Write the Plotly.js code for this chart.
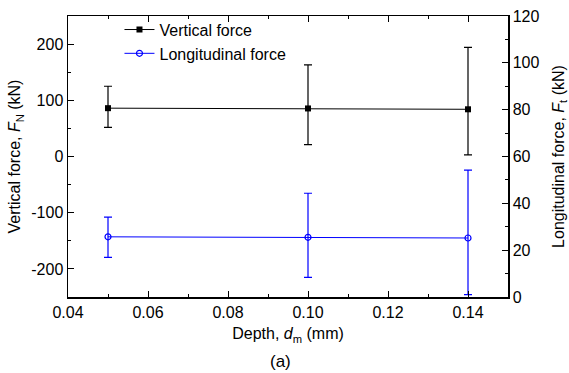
<!DOCTYPE html>
<html><head><meta charset="utf-8">
<script src="https://cdn.plot.ly/plotly-3.0.1.min.js"></script>
<style>html,body{margin:0;padding:0;background:#fff}#chart{width:569px;height:373px}</style>
</head><body><div id="chart"></div>
<script>
const depth = [0.05, 0.10, 0.14];
const verticalForce = [86, 85.5, 84];
const verticalErrPlus = [39, 77.5, 110];
const verticalErrMinus = [34, 64.5, 81];
const longitudinalForce = [25.7, 25.5, 25.2];
const longitudinalErrPlus = [8.4, 18.8, 29];
const longitudinalErrMinus = [8.8, 17.1, 24.2];
const xTicks = [0.04, 0.06, 0.08, 0.10, 0.12, 0.14];
const xTickLabels = ['0.04', '0.06', '0.08', '0.10', '0.12', '0.14'];
const yTicks = [-200, -100, 0, 100, 200];
const yTickLabels = ['-200', '-100', '0', '100', '200'];
const y2Ticks = [0, 20, 40, 60, 80, 100, 120];

const font = {family: 'Liberation Sans, Arial, sans-serif', size: 16, color: '#000'};

const traces = [
  {
    x: depth, y: verticalForce, name: 'Vertical force', type: 'scatter', mode: 'lines+markers',
    line: {color: '#000', width: 1}, marker: {symbol: 'square', size: 6, color: '#000'},
    error_y: {type: 'data', symmetric: false, array: verticalErrPlus, arrayminus: verticalErrMinus,
      color: '#000', thickness: 1.2, width: 4},
    yaxis: 'y'
  },
  {
    x: depth, y: longitudinalForce, name: 'Longitudinal force', type: 'scatter', mode: 'lines+markers',
    line: {color: '#0000ff', width: 1}, marker: {symbol: 'circle-open', size: 6, color: '#0000ff', line: {width: 1.2}},
    error_y: {type: 'data', symmetric: false, array: longitudinalErrPlus, arrayminus: longitudinalErrMinus,
      color: '#0000ff', thickness: 1.2, width: 4},
    yaxis: 'y2'
  }
];

const layout = {
  width: 569, height: 373,
  margin: {l: 68, r: 61, t: 16, b: 76},
  paper_bgcolor: '#fff', plot_bgcolor: '#fff',
  font: font,
  showlegend: true,
  legend: {x: 0.117, y: 1.012, xanchor: 'left', yanchor: 'top', bgcolor: 'rgba(0,0,0,0)', font: font, tracegroupgap: 0},
  xaxis: {
    range: [0.04, 0.15], tickvals: xTicks, ticktext: xTickLabels,
    ticks: 'inside', ticklen: 6, tickwidth: 1, tickcolor: '#000',
    minor: {dtick: 0.01, tick0: 0.05, ticks: 'inside', ticklen: 3, tickcolor: '#000'},
    showline: true, linecolor: '#000', linewidth: 1.5, mirror: 'ticks',
    showgrid: false, zeroline: false, tickfont: font,
    title: {text: 'Depth, <i>d</i><sub>m</sub> (mm)', font: font, standoff: 8}
  },
  yaxis: {
    range: [-250, 250], tickvals: yTicks, ticktext: yTickLabels,
    ticks: 'inside', ticklen: 6, tickwidth: 1, tickcolor: '#000',
    minor: {dtick: 50, tick0: -250, ticks: 'inside', ticklen: 3, tickcolor: '#000'},
    showline: true, linecolor: '#000', linewidth: 1.5,
    showgrid: false, zeroline: false, tickfont: font,
    title: {text: 'Vertical force, <i>F</i><sub>N</sub> (kN)', font: font, standoff: 6}
  },
  yaxis2: {
    overlaying: 'y', side: 'right', range: [0, 120], tickvals: y2Ticks,
    ticks: 'inside', ticklen: 6, tickwidth: 1, tickcolor: '#000',
    minor: {dtick: 10, tick0: 0, ticks: 'inside', ticklen: 3, tickcolor: '#000'},
    showline: true, linecolor: '#000', linewidth: 1.5,
    showgrid: false, zeroline: false, tickfont: font,
    title: {text: 'Longitudinal force, <i>F</i><sub>t</sub> (kN)', font: font, standoff: 17}
  },
  annotations: [{
    text: '(a)', xref: 'paper', yref: 'paper', x: 0.482, y: 0, yshift: -64,
    xanchor: 'center', yanchor: 'middle', showarrow: false, font: {family: font.family, size: 17, color: '#000'}
  }]
};

Plotly.newPlot('chart', traces, layout, {displayModeBar: false, staticPlot: true});
</script>
</body></html>
